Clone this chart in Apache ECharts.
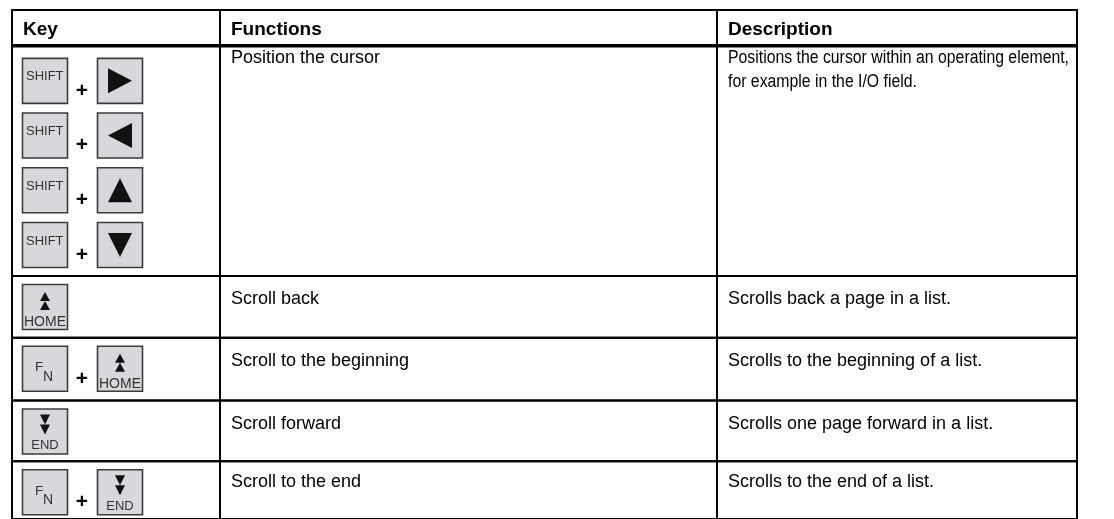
<!DOCTYPE html>
<html><head><meta charset="utf-8">
<script src="https://cdn.jsdelivr.net/npm/echarts@6/dist/echarts.min.js"></script>
<style>html,body{margin:0;padding:0;background:#fff}#c{width:1114px;height:519px}</style>
</head><body><div id="c"></div>
<script>
// ---- data ----
const headers = ['Key', 'Functions', 'Description'];
const keyCombos = [
  [['SHIFT', 'RIGHT'], ['SHIFT', 'LEFT'], ['SHIFT', 'UP'], ['SHIFT', 'DOWN']],
  [['HOME']],
  [['FN', 'HOME']],
  [['END']],
  [['FN', 'END']]
];
const functions = ['Position the cursor', 'Scroll back', 'Scroll to the beginning', 'Scroll forward', 'Scroll to the end'];
const descriptions = [
  ['Positions the cursor within an operating element,', 'for example in the I/O field.'],
  ['Scrolls back a page in a list.'],
  ['Scrolls to the beginning of a list.'],
  ['Scrolls one page forward in a list.'],
  ['Scrolls to the end of a list.']
];

// ---- layout (table units = px) ----
const COL_EDGES = [0, 208, 705, 1065];
const ROW_EDGES = [0, 36, 267, 329, 392, 453, 511];
const FONT = '"Liberation Sans", Arial, Helvetica, sans-serif';
const BODY_FONT = '18px ' + FONT;
const PAD = 11;

const measureCtx = document.createElement('canvas').getContext('2d');
function fitScale(lines, font, maxW) {
  measureCtx.font = font;
  let s = 1;
  lines.forEach(t => { s = Math.min(s, maxW / measureCtx.measureText(t).width); });
  return s;
}

const cells = [];
for (let r = 0; r <= functions.length; r++)
  for (let c = 0; c < headers.length; c++) cells.push([c, r]);

function keyIcon(type, x, y) {
  const S = 46, cx = x + S / 2, cy = y + S / 2;
  const els = [{type: 'rect', shape: {x: x + 0.5, y: y + 0.5, width: S - 1, height: S - 1},
    style: {fill: '#d6d8dc', stroke: '#3c3c3c', lineWidth: 1.6}}];
  const tri = pts => ({type: 'polygon', shape: {points: pts}, style: {fill: '#111'}});
  const txt = (t, tx, ty, size, align) => ({type: 'text', style: {text: t, x: tx, y: ty,
    font: size + 'px ' + FONT, fill: '#333', align: align || 'left', verticalAlign: 'middle'}});
  switch (type) {
    case 'SHIFT': els.push(txt('SHIFT', x + 4, y + 19, 13)); break;
    case 'RIGHT': els.push(tri([[cx - 12, cy - 12.5], [cx + 12, cy], [cx - 12, cy + 12.5]])); break;
    case 'LEFT': els.push(tri([[cx + 12, cy - 12.5], [cx - 12, cy], [cx + 12, cy + 12.5]])); break;
    case 'UP': els.push(tri([[cx - 12, cy + 12], [cx, cy - 12], [cx + 12, cy + 12]])); break;
    case 'DOWN': els.push(tri([[cx - 12, cy - 12], [cx, cy + 12], [cx + 12, cy - 12]])); break;
    case 'HOME':
      els.push(tri([[cx - 5, y + 17], [cx, y + 8], [cx + 5, y + 17]]));
      els.push(tri([[cx - 5, y + 26], [cx, y + 17], [cx + 5, y + 26]]));
      els.push(txt('HOME', cx, y + 38.5, 14, 'center'));
      break;
    case 'END':
      els.push(tri([[cx - 5, y + 6], [cx, y + 16], [cx + 5, y + 6]]));
      els.push(tri([[cx - 5, y + 16], [cx, y + 26], [cx + 5, y + 16]]));
      els.push(txt('END', cx, y + 37, 13, 'center'));
      break;
    case 'FN':
      els.push(txt('F', x + 13, y + 22, 13.5));
      els.push(txt('N', x + 21, y + 31, 14));
      break;
  }
  return els;
}

function bodyText(text, x, y, scale) {
  return {type: 'text', x: x, y: y, scaleX: scale,
    style: {text: text, x: 0, y: 0, font: BODY_FONT, fill: '#000', verticalAlign: 'middle'}};
}

function renderCell(params, api) {
  const c = api.value(0), r = api.value(1);
  const p0 = api.coord([COL_EDGES[c], ROW_EDGES[r]]);
  const p1 = api.coord([COL_EDGES[c + 1], ROW_EDGES[r + 1]]);
  const children = [{type: 'rect', shape: {x: p0[0], y: p0[1], width: p1[0] - p0[0], height: p1[1] - p0[1]},
    style: {fill: 'none', stroke: '#000', lineWidth: 2}}];
  const tx = p0[0] + PAD;
  const maxW = p1[0] - p0[0] - PAD - 8;
  if (r === 0) {
    children.push({type: 'line', shape: {x1: p0[0], y1: p1[1], x2: p1[0], y2: p1[1]},
      style: {stroke: '#000', lineWidth: 3.5}});
    children.push({type: 'text', style: {text: headers[c], x: tx, y: p0[1] + 20,
      font: 'bold 19px ' + FONT, fill: '#000', verticalAlign: 'middle'}});
  } else {
    const i = r - 1;
    const textY = p0[1] + (i === 0 ? 12.5 : (i === 4 ? 21 : 23.5));
    if (c === 0) {
      keyCombos[i].forEach((combo, k) => {
        const ky = p0[1] + (i === 0 ? 12 + k * 54.7 : 8);
        const kx = p0[0] + 10;
        children.push(...keyIcon(combo[0], kx, ky));
        if (combo.length > 1) {
          children.push({type: 'text', style: {text: '+', x: kx + 60, y: ky + 33,
            font: 'bold 21px ' + FONT, fill: '#000', align: 'center', verticalAlign: 'middle'}});
          children.push(...keyIcon(combo[1], kx + 75, ky));
        }
      });
    } else {
      const lines = c === 1 ? [functions[i]] : descriptions[i];
      const s = fitScale(lines, BODY_FONT, maxW);
      lines.forEach((line, k) => children.push(bodyText(line, tx, textY + k * 24, s)));
    }
  }
  return {type: 'group', children};
}

const chart = echarts.init(document.getElementById('c'), null, {renderer: 'canvas'});
chart.setOption({
  animation: false,
  backgroundColor: '#fff',
  grid: {left: 12, top: 10, width: 1065, height: 511},
  xAxis: {type: 'value', min: 0, max: 1065, show: false},
  yAxis: {type: 'value', min: 0, max: 511, inverse: true, show: false},
  series: [{
    type: 'custom',
    clip: false,
    data: cells,
    renderItem: renderCell
  }]
});
</script>
</body></html>
